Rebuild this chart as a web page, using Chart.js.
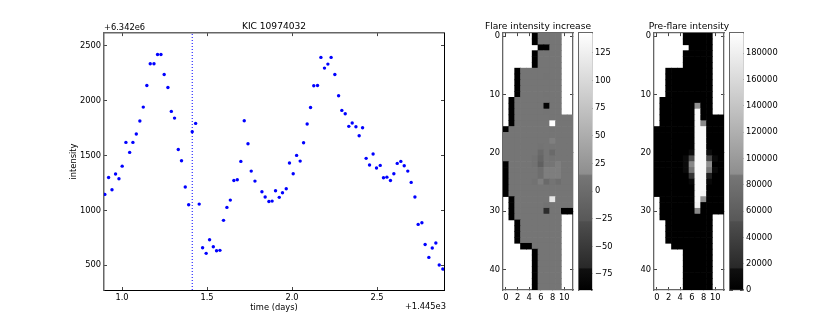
<!DOCTYPE html>
<html>
<head>
<meta charset="utf-8">
<style>
  html, body { margin: 0; padding: 0; background: #fff; }
  canvas { position: absolute; left: 0; top: 0; }
</style>
<script src="https://cdn.jsdelivr.net/npm/chart.js@4"></script>
</head>
<body>
<canvas id="lineChart" width="830" height="332"></canvas>
<canvas id="flareMap" width="830" height="332"></canvas>
<canvas id="flareBar" width="830" height="332"></canvas>
<canvas id="preMap" width="830" height="332"></canvas>
<canvas id="preBar" width="830" height="332"></canvas>
<script>
// light curve, days and intensity both relative to the offsets printed on the axes
const timeDays = [0.899, 0.921, 0.941, 0.962, 0.982, 1.001, 1.023, 1.045, 1.064, 1.084, 1.105, 1.125, 1.146, 1.166, 1.188, 1.209, 1.229, 1.248, 1.270, 1.290, 1.309, 1.331, 1.350, 1.372, 1.392, 1.413, 1.433, 1.454, 1.474, 1.495, 1.515, 1.537, 1.556, 1.576, 1.597, 1.617, 1.637, 1.658, 1.678, 1.699, 1.719, 1.741, 1.760, 1.782, 1.823, 1.842, 1.864, 1.883, 1.903, 1.925, 1.944, 1.966, 1.985, 2.007, 2.027, 2.048, 2.068, 2.089, 2.109, 2.128, 2.150, 2.170, 2.191, 2.211, 2.230, 2.252, 2.274, 2.293, 2.313, 2.334, 2.354, 2.376, 2.395, 2.415, 2.436, 2.456, 2.477, 2.497, 2.519, 2.538, 2.558, 2.579, 2.599, 2.619, 2.640, 2.660, 2.681, 2.701, 2.723, 2.742, 2.764, 2.783, 2.805, 2.825, 2.846, 2.866, 2.887];
const intensity = [1145, 1299, 1187, 1330, 1287, 1402, 1618, 1527, 1618, 1694, 1812, 1939, 2136, 2333, 2333, 2418, 2418, 2236, 2118, 1900, 1839, 1554, 1451, 1212, 1051, 1715, 1791, 1057, 660, 609, 733, 669, 633, 636, 909, 1027, 1093, 1272, 1278, 1445, 1815, 1606, 1357, 1266, 1169, 1121, 1081, 1084, 1178, 1118, 1160, 1196, 1430, 1333, 1500, 1448, 1615, 1785, 1936, 2133, 2136, 2391, 2294, 2330, 2391, 2236, 2042, 1909, 1879, 1764, 1794, 1760, 1679, 1751, 1473, 1412, 1512, 1385, 1409, 1296, 1302, 1272, 1333, 1427, 1445, 1405, 1357, 1254, 1121, 872, 887, 690, 572, 657, 703, 503, 466];
const flareTime = 1.413;
const timeRange = [0.894, 2.894];
const intensityRange = [275.5, 2612];
const timeTicks = [1.0, 1.5, 2.0, 2.5];
const intensityTicks = [500, 1000, 1500, 2000, 2500];

// pixel maps, null where the pixel is outside the aperture
const _ = null;
const B = -89;
const flareRows = [
  [_, _, _, _, _, B, 13, 13, 13, 13, _, _],
  [_, _, _, _, _, B, 13, 13, 13, 13, _, _],
  [_, _, _, _, _, _, B, B, 13, 13, _, _],
  [_, _, _, _, _, B, 13, 13, 13, 13, _, _],
  [_, _, _, _, _, B, 13, 13, 13, 13, _, _],
  [_, _, _, _, _, B, 13, 13, 13, 13, _, _],
  [_, _, B, 13, 13, 13, 13, 13, 13, 13, _, _],
  [_, _, B, 13, 13, 13, 13, 11, 13, 13, _, _],
  [_, _, B, 13, 13, 13, 13, 13, 13, 13, _, _],
  [_, _, B, 13, 13, 13, 13, 13, 13, 13, _, _],
  [_, _, B, 13, 13, 13, 13, 11, 13, 13, _, _],
  [_, B, 13, 13, 13, 13, 13, 13, 13, 13, _, _],
  [_, B, 13, 13, 13, 13, 13, -85, 13, 13, _, _],
  [_, B, 13, 13, 13, 13, 13, 11, 13, 13, _, _],
  [_, B, 13, 13, 13, 13, 13, 13, 13, 13, 13, 13],
  [_, B, 13, 13, 13, 13, 13, 13, 143, 13, 13, 13],
  [B, 13, 13, 13, 13, 13, 13, 13, 11, 13, 13, 13],
  [13, 13, 13, 13, 13, 13, 13, 13, 13, 13, 13, 13],
  [13, 13, 13, 13, 13, 13, 13, 13, 14.6, 13, 13, 13],
  [13, 13, 13, 13, 13, 13, 10, 13, 13, 13, 13, 13],
  [13, 13, 13, 13, 13, 13, -2, 13, -2, 13, 13, 13],
  [13, 13, 13, 13, 13, 8, -8, 13, 10, 13, 13, 13],
  [B, 13, 13, 13, 13, 9, -16, 13, 13, 14.5, 13, 13],
  [B, 13, 13, 13, 13, 13, 3, 14.5, 14.5, 14.5, 13, 13],
  [B, 13, 13, 13, 13, 13, 3, 14.5, 14.5, 14.5, 13, 13],
  [B, 13, 13, 13, 13, 8, 14.5, -2, 11, 3, 13, 13],
  [B, 13, 13, 13, 13, 13, 13, 13, 13, 13, 13, 13],
  [B, 13, 13, 13, 13, 13, 13, 13, 13, 13, 13, 13],
  [_, B, 13, 13, 13, 13, 13, 13, 115, 13, 13, 13],
  [_, B, 13, 13, 13, 13, 13, 9, 13, 13, 13, 13],
  [_, B, 13, 13, 13, 13, 13, -65, 13, 13, B, B],
  [_, B, 13, 13, 13, 13, 13, 13, 13, 13, _, _],
  [_, _, B, 13, 13, 13, 13, 13, 13, 13, _, _],
  [_, _, B, 13, 13, 13, 13, 13, 13, 13, _, _],
  [_, _, B, 13, 13, 13, 13, 13, 13, 13, _, _],
  [_, _, B, 13, 13, 13, 13, 13, 13, 13, _, _],
  [_, _, _, B, B, 13, 13, 13, 13, 13, _, _],
  [_, _, _, _, _, B, 13, 13, 13, 13, _, _],
  [_, _, _, _, _, B, 13, 13, 13, 13, _, _],
  [_, _, _, _, _, B, 13, 13, 13, 13, _, _],
  [_, _, _, _, _, B, 13, 13, 13, 13, _, _],
  [_, _, _, _, _, B, 13, 13, 13, 13, _, _],
  [_, _, _, _, _, B, 13, 13, 13, 13, _, _],
  [_, _, _, _, _, B, 13, 13, 13, 13, _, _]
];
const preRows = [
  [_, _, _, _, _, 0, 0, 0, 0, 0, _, _],
  [_, _, _, _, _, 0, 0, 0, 0, 0, _, _],
  [_, _, _, _, _, _, 0, 0, 0, 0, _, _],
  [_, _, _, _, _, 0, 0, 0, 0, 0, _, _],
  [_, _, _, _, _, 0, 0, 0, 0, 0, _, _],
  [_, _, _, _, _, 0, 0, 0, 0, 0, _, _],
  [_, _, 0, 0, 0, 0, 0, 0, 0, 0, _, _],
  [_, _, 0, 0, 0, 0, 0, 0, 0, 0, _, _],
  [_, _, 0, 0, 0, 0, 0, 0, 0, 0, _, _],
  [_, _, 0, 0, 0, 0, 0, 0, 0, 0, _, _],
  [_, _, 0, 0, 0, 0, 0, 0, 0, 0, _, _],
  [_, 0, 0, 0, 0, 0, 0, 0, 0, 0, _, _],
  [_, 0, 0, 0, 0, 0, 0, 90000, 0, 0, _, _],
  [_, 0, 0, 0, 0, 0, 0, 190000, 0, 0, _, _],
  [_, 0, 0, 0, 0, 0, 0, 190000, 0, 0, 0, 0],
  [_, 0, 0, 0, 0, 0, 0, 190000, 88000, 0, 0, 0],
  [0, 0, 0, 0, 0, 0, 0, 190000, 190000, 0, 0, 0],
  [0, 0, 0, 0, 0, 0, 0, 190000, 190000, 0, 0, 0],
  [0, 0, 0, 0, 0, 0, 0, 190000, 190000, 0, 0, 0],
  [0, 0, 0, 0, 0, 0, 0, 190000, 190000, 0, 0, 0],
  [0, 0, 0, 0, 0, 0, 12000, 190000, 190000, 12000, 0, 0],
  [0, 0, 0, 0, 0, 10000, 50000, 190000, 190000, 45000, 10000, 0],
  [0, 0, 0, 0, 0, 10000, 88000, 190000, 190000, 88500, 0, 0],
  [0, 0, 0, 0, 0, 10000, 85000, 190000, 190000, 87000, 10000, 0],
  [0, 0, 0, 0, 0, 0, 27000, 190000, 190000, 16500, 0, 0],
  [0, 0, 0, 0, 0, 0, 8000, 190000, 190000, 8000, 0, 0],
  [0, 0, 0, 0, 0, 0, 0, 190000, 190000, 0, 0, 0],
  [0, 0, 0, 0, 0, 0, 0, 190000, 185000, 0, 0, 0],
  [_, 0, 0, 0, 0, 0, 0, 190000, 90000, 0, 0, 0],
  [_, 0, 0, 0, 0, 0, 0, 185000, 0, 0, 0, 0],
  [_, 0, 0, 0, 0, 0, 0, 88000, 0, 0, 0, 0],
  [_, 0, 0, 0, 0, 0, 0, 0, 0, 0, _, _],
  [_, _, 0, 0, 0, 0, 0, 0, 0, 0, _, _],
  [_, _, 0, 0, 0, 0, 0, 0, 0, 0, _, _],
  [_, _, 0, 0, 0, 0, 0, 0, 0, 0, _, _],
  [_, _, 0, 0, 0, 0, 0, 0, 0, 0, _, _],
  [_, _, _, 0, 0, 0, 0, 0, 0, 0, _, _],
  [_, _, _, _, _, 0, 0, 0, 0, 0, _, _],
  [_, _, _, _, _, 0, 0, 0, 0, 0, _, _],
  [_, _, _, _, _, 0, 0, 0, 0, 0, _, _],
  [_, _, _, _, _, 0, 0, 0, 0, 0, _, _],
  [_, _, _, _, _, 0, 0, 0, 0, 0, _, _],
  [_, _, _, _, _, 0, 0, 0, 0, 0, _, _],
  [_, _, _, _, _, 0, 0, 0, 0, 0, _, _]
];
const colRange = [-0.5, 11.5];
const rowRange = [-0.5, 43.5];
const colTicks = [0, 2, 4, 6, 8, 10];
const rowTicks = [0, 10, 20, 30, 40];
const flareRange = [-89.5, 143];
const flareTicks = [-75, -50, -25, 0, 25, 50, 75, 100, 125];
const preRange = [0, 195400];
const preTicks = [0, 20000, 40000, 60000, 80000, 100000, 120000, 140000, 160000, 180000];

// banded gray colormap: [fraction, gray]
const grayStops = [[0, 0], [0.082, 16], [0.086, 40], [0.265, 78], [0.27, 88], [0.445, 118], [0.452, 142], [1, 255]];

Chart.defaults.font.family = '"DejaVu Sans", sans-serif';
Chart.defaults.color = '#000';
Chart.defaults.animation = false;
Chart.defaults.plugins.legend.display = false;
Chart.defaults.plugins.tooltip.enabled = false;

const W = 830, H = 332, TOP = 33, BOTTOM = 290;

function grayOf(value, range) {
  const f = Math.min(1, Math.max(0, (value - range[0]) / (range[1] - range[0])));
  for (let i = 1; i < grayStops.length; i++) {
    const [f0, g0] = grayStops[i - 1], [f1, g1] = grayStops[i];
    if (f <= f1) {
      const g = Math.round(g0 + (g1 - g0) * (f - f0) / (f1 - f0));
      return 'rgb(' + g + ',' + g + ',' + g + ')';
    }
  }
  return '#fff';
}

function axis(position, range, tickValues, o) {
  const horizontal = position === 'top' || position === 'bottom';
  const fmt = o.format || (v => v);
  return {
    type: 'linear',
    position: position,
    min: range[0],
    max: range[1],
    reverse: !!o.reverse,
    offset: false,
    title: o.title ? { display: true, text: o.title, font: { size: 8.3 }, padding: { top: o.titlePad, bottom: o.titlePad } } : { display: false },
    border: { display: true, color: o.color, width: o.width || 1 },
    grid: { offset: false, drawOnChartArea: false, drawTicks: true, tickLength: -3, tickColor: o.tickColor || '#444', tickWidth: 1 },
    ticks: {
      display: !!o.labels, padding: 6, autoSkip: false, maxRotation: 0, minRotation: 0, font: { size: 8.3 },
      callback: v => String(fmt(v)).replace('-', '\u2212')
    },
    afterBuildTicks: s => { s.ticks = tickValues.map(value => ({ value })); },
    afterFit: s => {
      if (horizontal) s.height = o.size; else s.width = o.size;
      s.paddingLeft = s.paddingRight = s.paddingTop = s.paddingBottom = 0;
    }
  };
}

function titled(text, fullSize) {
  return { display: true, text: text, fullSize: fullSize, font: { size: 9.1, weight: 'normal' }, padding: { top: 0, bottom: 1.5 } };
}

const offsetText = {
  id: 'offsetText',
  afterDraw(chart) {
    const c = chart.ctx;
    c.save();
    c.fillStyle = '#000';
    c.font = '8.3px "DejaVu Sans"';
    c.textBaseline = 'middle';
    c.textAlign = 'left';
    c.fillText('+6.342e6', 104, 28);
    c.textAlign = 'right';
    c.fillText('+1.445e3', 446, 306.5);
    c.restore();
  }
};

// scatter of the light curve plus the dotted flare marker
new Chart(document.getElementById('lineChart'), {
  type: 'scatter',
  data: {
    datasets: [{
      data: timeDays.map((t, i) => ({ x: t, y: intensity[i] })),
      backgroundColor: '#0000ff',
      borderWidth: 0,
      pointRadius: 1.7
    }, {
      data: [{ x: flareTime, y: intensityRange[0] }, { x: flareTime, y: intensityRange[1] }],
      showLine: true,
      pointRadius: 0,
      borderColor: '#0000ff',
      borderWidth: 1,
      borderDash: [1, 2]
    }]
  },
  plugins: [offsetText],
  options: {
    responsive: false,
    layout: { padding: { left: 0, right: 0, top: 20.7, bottom: 0 } },
    plugins: { title: titled('KIC 10974032', false) },
    scales: {
      x: axis('bottom', timeRange, timeTicks, { labels: true, size: H - BOTTOM, color: '#000', title: 'time (days)', titlePad: 19, format: v => v.toFixed(1) }),
      x2: axis('top', timeRange, timeTicks, { size: 0, color: '#666', width: 1.5 }),
      y: axis('left', intensityRange, intensityTicks, { labels: true, size: 104, color: '#666', width: 1.5, title: 'intensity', titlePad: 69 }),
      y2: axis('right', intensityRange, intensityTicks, { size: W - 444, color: '#000' })
    }
  }
});

// the title is centred on the whole padded canvas, so pad the left side until
// the panel sits in the middle; a panel-wide title box would squeeze the text
function heatmap(id, rows, range, title, left, right) {
  const padLeft = left + right - W;
  const cells = [];
  rows.forEach((row, r) => row.forEach((v, c) => {
    if (v !== null) cells.push({ x: c, y: [r - 0.5, r + 0.5], v: v });
  }));
  new Chart(document.getElementById(id), {
    type: 'bar',
    data: {
      datasets: [{
        data: cells,
        barPercentage: 1,
        categoryPercentage: 1,
        backgroundColor: ctx => ctx.raw ? grayOf(ctx.raw.v, range) : '#000'
      }]
    },
    options: {
      responsive: false,
      layout: { padding: { left: padLeft, right: 0, top: 20.7, bottom: 0 } },
      plugins: { title: titled(title, true) },
      scales: {
        x: axis('bottom', colRange, colTicks, { labels: true, size: H - BOTTOM, color: '#666', width: 1.3 }),
        x2: axis('top', colRange, colTicks, { size: 0, color: '#666', width: 1.3 }),
        y: axis('left', rowRange, rowTicks, { labels: true, size: left - padLeft, color: '#666', width: 1.3, reverse: true }),
        y2: axis('right', rowRange, rowTicks, { size: W - right, color: '#666', width: 1.3, reverse: true })
      }
    }
  });
}

function colorbar(id, range, ticks, left, right) {
  new Chart(document.getElementById(id), {
    type: 'bar',
    data: {
      datasets: [{
        data: [{ x: 0, y: range }],
        barPercentage: 1,
        categoryPercentage: 1,
        backgroundColor: ctx => {
          const area = ctx.chart.chartArea;
          if (!area) return '#888';
          const g = ctx.chart.ctx.createLinearGradient(0, area.bottom, 0, area.top);
          grayStops.forEach(s => g.addColorStop(s[0], 'rgb(' + s[1] + ',' + s[1] + ',' + s[1] + ')'));
          return g;
        }
      }]
    },
    options: {
      responsive: false,
      layout: { padding: { left: 0, right: 0, top: TOP, bottom: 0 } },
      scales: {
        x: axis('bottom', [-0.5, 0.5], [], { size: H - BOTTOM, color: '#666', width: 1.3 }),
        x2: axis('top', [-0.5, 0.5], [], { size: 0, color: '#666', width: 1.3 }),
        y: axis('right', range, ticks, { labels: true, size: W - right, color: '#666', width: 1.3 }),
        y2: axis('left', range, ticks, { size: left, color: '#666', width: 1.3 })
      }
    }
  });
}

heatmap('flareMap', flareRows, flareRange, 'Flare intensity increase', 503, 573);
colorbar('flareBar', flareRange, flareTicks, 579, 592);
heatmap('preMap', preRows, preRange, 'Pre-flare intensity', 654, 724);
colorbar('preBar', preRange, preTicks, 730, 743);
</script>
</body>
</html>
